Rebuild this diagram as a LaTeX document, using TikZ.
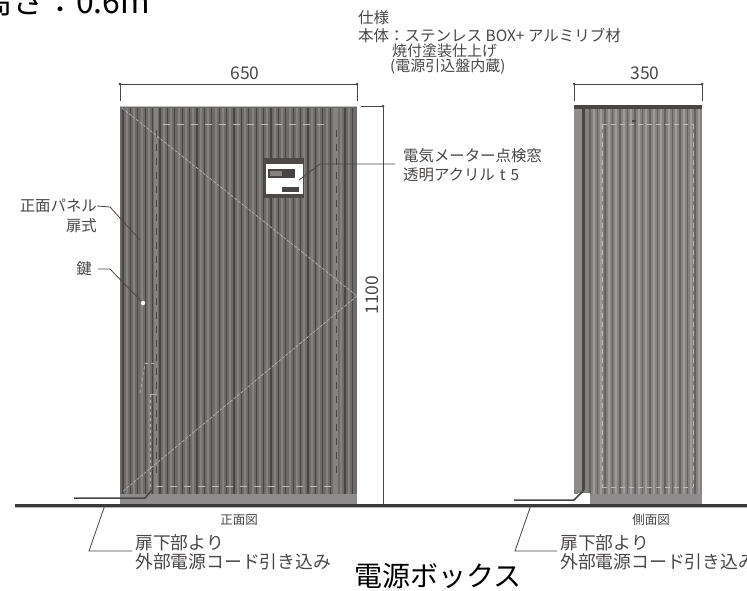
\documentclass[tikz,border=0pt]{standalone}
\usepackage{fontspec}
\setmainfont{Noto Sans CJK JP}
\usepackage{tikz}
\usetikzlibrary{positioning}
\usepackage{xcolor}
\definecolor{panelgray}{HTML}{6E6B6B}
\definecolor{bandgray}{HTML}{8E8C8C}
\definecolor{ribdark}{HTML}{4A4545}
\definecolor{riblight}{HTML}{858282}
\definecolor{inkgray}{HTML}{4A4646}
\tikzset{
    label/.style={inner sep=0pt, text=inkgray, font=\fontsize{15.4}{15.4}\selectfont},
    small/.style={inner sep=0pt, text=inkgray, font=\fontsize{15}{15}\selectfont},
    tiny/.style={inner sep=0pt, text=inkgray, font=\fontsize{12.5}{12.5}\selectfont},
    dimtext/.style={inner sep=0pt, text=inkgray, font=\fontsize{17.5}{17.5}\selectfont},
    cord/.style={inner sep=0pt, text=inkgray, font=\fontsize{17.8}{17.8}\selectfont},
    big/.style={inner sep=0pt, text=black, font=\fontsize{28}{28}\selectfont},
    leader/.style={draw=inkgray, line width=0.8pt},
    dim/.style={draw=inkgray, line width=0.9pt},
    hidden/.style={draw=white!55!panelgray, line width=1pt, dash pattern=on 7pt off 7pt},
    seam/.style={draw=white!50!panelgray, line width=0.7pt}
}
\begin{document}
\begin{tikzpicture}[x=1pt, y=-1pt]
        \path[use as bounding box, clip] (0,0) rectangle (747,590);
        \fill[white] (0,0) rectangle (747,590);

        \fill[panelgray] (120,106) rectangle (357,494);
        \fill[bandgray] (120,494) rectangle (357,505);
        \foreach \x in {123,130.4,...,355}
            \draw[ribdark, line width=1.1pt] (\x,108) -- (\x,494);
        \foreach \x in {126.7,134.1,...,355}
            \draw[riblight, line width=2pt] (\x,108) -- (\x,494);
        \draw[riblight, line width=4pt] (156,108) -- (156,494);
        \draw[riblight, line width=4pt] (336,108) -- (336,494);
        \draw[white!55!panelgray, line width=1pt] (120,106) -- (357,106);

        \fill[panelgray!85!white] (574,106) rectangle (702,494);
        \fill[bandgray] (590,494) rectangle (702,505);
        \fill[bandgray] (574,106) rectangle (582,490);
        \foreach \x in {590,597.5,...,700}
            \draw[ribdark!85!white, line width=1.1pt] (\x,108) -- (\x,494);
        \foreach \x in {593.7,601.2,...,700}
            \draw[riblight!80!white, line width=2pt] (\x,108) -- (\x,494);
        \fill[ribdark] (582,106) rectangle (585,490);
        \fill[ribdark] (574,105) rectangle (702,109);
        \fill[ribdark] (632,120) rectangle (636,122);

        \coordinate (ftl) at (163,124);
        \coordinate (ftr) at (330,124);
        \coordinate (fla) at (156,130);
        \coordinate (flb) at (156,480);
        \coordinate (fra) at (336,130);
        \coordinate (frb) at (336,480);
        \coordinate (fbl) at (156,486);
        \coordinate (fbr) at (336,486);
        \draw[hidden] (ftl)--(ftr);
        \draw[hidden, draw=ribdark] (fla)--(flb);
        \draw[hidden] (fbl)--(fbr);
        \draw[hidden, draw=ribdark] (fra)--(frb);
        \coordinate (stl) at (602,124);
        \coordinate (str) at (693,124);
        \coordinate (sbl) at (602,487);
        \coordinate (sbr) at (693,487);
        \draw[hidden, dash pattern=on 5pt off 4pt] (stl)--(str);
        \draw[hidden, dash pattern=on 5pt off 4pt] (stl)--(sbl);
        \draw[hidden, dash pattern=on 5pt off 4pt] (sbl)--(sbr);
        \draw[hidden, dash pattern=on 5pt off 4pt] (str)--(sbr);

        \coordinate (hingetop) at (122,108);
        \coordinate (hingemid) at (357,296);
        \coordinate (hingebot) at (122,492);
        \draw[seam, dash pattern=on 3pt off 1.5pt] (hingetop)--(hingemid);
        \draw[seam, dash pattern=on 3pt off 1.5pt] (hingemid)--(hingebot);

        \node[fill=ribdark!90!panelgray, minimum width=40pt, minimum height=40pt, inner sep=0pt] (frame) at (284,178) {};
        \node[fill=white, minimum width=37pt, minimum height=30pt, inner sep=0pt] (window) at (284,179) {};
        \node[fill=ribdark, minimum width=27pt, minimum height=9pt, inner sep=0pt] (meter) at (281.5,173.5) {};
        \node[fill=riblight, minimum width=12pt, minimum height=5pt, inner sep=0pt] (dial) at (276,173.5) {};
        \node[fill=ribdark, minimum width=17pt, minimum height=5pt, inner sep=0pt] (breaker) at (290.5,189.5) {};

        \node[fill=white, circle, minimum size=4.5pt, inner sep=0pt] (keyhole) at (143,303) {};
        \coordinate (door1) at (140,393);
        \coordinate (door2) at (145,363);
        \coordinate (door3) at (155,363);
        \coordinate (door4) at (150,394);
        \coordinate (door5) at (150,490);
        \coordinate (door6) at (156,394);
        \draw[seam, dashed] (door1)--(door2);
        \draw[seam, dashed] (door2)--(door3);
        \draw[seam, dashed] (door4)--(door5);
        \draw[seam] (door4)--(door6);

        \draw[white!60!inkgray, line width=1pt] (15,507) -- (747,507);
        \draw[inkgray!80!black, line width=3pt] (15,505) -- (747,505);

        \coordinate (fcord1) at (74,498);
        \coordinate (fcord2) at (145,498);
        \coordinate (fcord3) at (152,490);
        \draw[inkgray, line width=1.5pt] (fcord1)--(fcord2)--(fcord3);
        \coordinate (scord1) at (514,500);
        \coordinate (scord2) at (574,500);
        \coordinate (scord3) at (584,490);
        \fill[white] (578,493) rectangle (590,503);
        \draw[inkgray, line width=1.5pt] (scord1)--(scord2)--(scord3);

        \coordinate (wa) at (120,84);
        \coordinate (wb) at (357,84);
        \coordinate (wc) at (120,101);
        \coordinate (wd) at (357,101);
        \draw[dim] (wa)--(wb);
        \draw[dim] (wa)--(wc);
        \draw[dim] (wb)--(wd);
        \fill[inkgray] (wa) circle (1.5pt);
        \fill[inkgray] (wb) circle (1.5pt);
        \node[dimtext] (w650) at (245,73) {650};

        \coordinate (da) at (574,84);
        \coordinate (db) at (702,84);
        \coordinate (dc) at (574,101);
        \coordinate (dd) at (702,101);
        \draw[dim] (da)--(db);
        \draw[dim] (da)--(dc);
        \draw[dim] (db)--(dd);
        \fill[inkgray] (da) circle (1.5pt);
        \fill[inkgray] (db) circle (1.5pt);
        \node[dimtext] (d350) at (645,73) {350};

        \coordinate (ha) at (361,106);
        \coordinate (hb) at (383,106);
        \coordinate (hc) at (383,505);
        \draw[dim] (ha)--(hb);
        \draw[dim] (hb)--(hc);
        \fill[inkgray] (hb) circle (1.5pt);
        \node[dimtext, rotate=90] (h1100) at (372,295) {1100};

        \node[big, anchor=base west, font=\fontsize{32}{32}\selectfont] (height) at (-20,13) {高さ：0.6m};
        \node[small, anchor=west, font=\fontsize{15.5}{15.5}\selectfont] (spec0) at (358,18) {仕様};
        \node[small, anchor=west, font=\fontsize{15.5}{15.5}\selectfont] (spec1) at (358,35) {本体：ステンレス BOX+ アルミリブ材};
        \node[small, anchor=west] (spec2) at (392,51) {焼付塗装仕上げ};
        \node[small, anchor=west] (spec3) at (390,67) {(電源引込盤内蔵)};

        \node[label, anchor=west] (meterlabel) at (403,156) {電気メーター点検窓};
        \node[label, anchor=west] (acryl) at (403,175) {透明アクリル\hspace{5pt}t\hspace{5pt}5};
        \node[label, anchor=east] (panellabel) at (97,206) {正面パネル};
        \node[label, anchor=east] (doorlabel) at (97,226) {扉式};
        \node[label, anchor=east] (keylabel) at (92,269) {鍵};
        \node[tiny, anchor=center] (frontname) at (239,520) {正面図};
        \node[tiny, anchor=center] (sidename) at (651,520) {側面図};

        \node[cord, anchor=west] (fnote1) at (135,543) {扉下部より};
        \node[cord, anchor=west] (fnote2) at (135,562) {外部電源コード引き込み};
        \node[cord, anchor=west] (snote1) at (560,543) {扉下部より};
        \node[cord, anchor=west] (snote2) at (560,562) {外部電源コード引き込み};
        \node[big, anchor=center] (title) at (438,576) {電源ボックス};

        \coordinate (p1) at (110,207);
        \coordinate (p2) at (140,240);
        \draw[leader] (panellabel.east)--(p1)--(p2);
        \coordinate (k0) at (98,269);
        \coordinate (k1) at (110,269);
        \draw[leader] (k0)--(k1)--(keyhole);
        \coordinate (m1) at (299,180);
        \coordinate (m2) at (320,164);
        \coordinate (m3) at (395,164);
        \draw[leader] (m1)--(m2)--(m3);
        \coordinate (f1) at (105,505);
        \coordinate (f2) at (89,551);
        \coordinate (f3) at (132,551);
        \draw[leader] (f1)--(f2)--(f3);
        \coordinate (s1) at (531,505);
        \coordinate (s2) at (515,551);
        \coordinate (s3) at (557,551);
        \draw[leader] (s1)--(s2)--(s3);
\end{tikzpicture}
\end{document}
